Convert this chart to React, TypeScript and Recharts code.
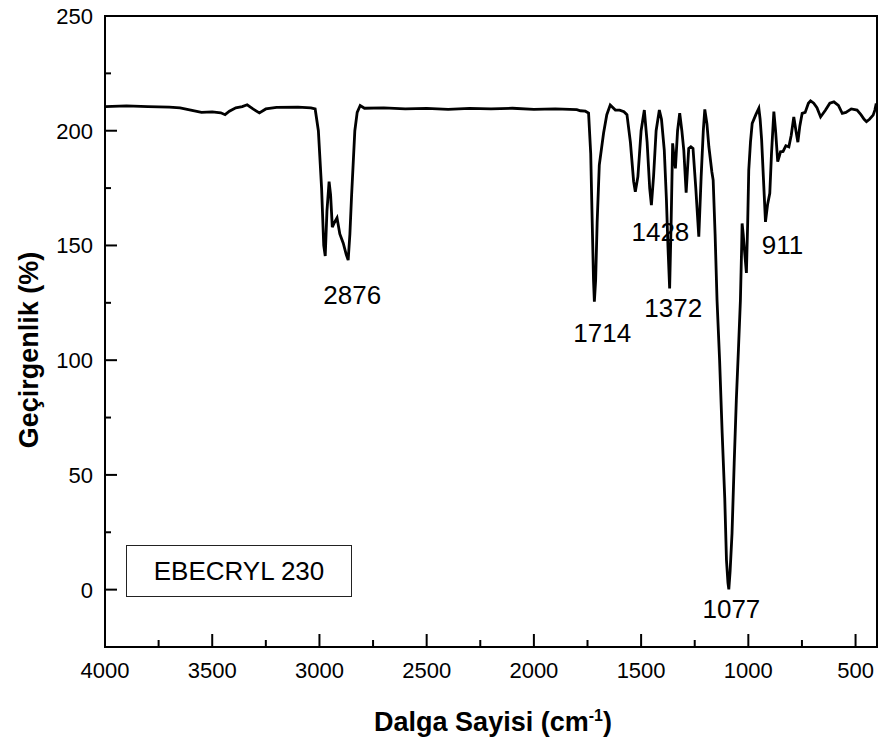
import React from 'react';
import { LineChart, Line, XAxis, YAxis, ReferenceArea, ReferenceDot } from 'recharts';

// FTIR spectrum (wavenumber, transmittance)
const wavenumbers = [
  4000, 3900, 3800, 3700, 3650, 3600, 3550, 3500, 3460, 3440, 3420, 3390, 3360, 3337, 3310, 3280, 3250, 3200, 3100, 3040,
  3020, 3005, 2990, 2980, 2973, 2965, 2955, 2948, 2940, 2930, 2918, 2905, 2889, 2875, 2866, 2858, 2850, 2843, 2835, 2824,
  2810, 2790, 2700, 2600, 2500, 2400, 2300, 2200, 2100, 2000, 1900, 1800, 1783, 1760, 1745, 1735, 1728, 1722, 1718, 1712,
  1705, 1695, 1675, 1660, 1644, 1620, 1600, 1580, 1566, 1550, 1535, 1527, 1515, 1500, 1485, 1472, 1460, 1452, 1442, 1430,
  1415, 1405, 1392, 1382, 1375, 1367, 1360, 1353, 1346, 1340, 1330, 1320, 1310, 1301, 1290, 1278, 1268, 1258, 1245, 1231,
  1220, 1210, 1203, 1193, 1184, 1170, 1164, 1155, 1146, 1134, 1122, 1110, 1102, 1095, 1091, 1085, 1076, 1066, 1056, 1046,
  1037, 1031, 1029, 1024, 1018, 1009, 1003, 998, 990, 982, 965, 951, 945, 938, 930, 920, 910, 900, 892, 881,
  873, 863, 855, 850, 838, 825, 811, 800, 788, 778, 769, 760, 749, 735, 720, 710, 695, 680, 663, 640,
  620, 601, 580, 562, 545, 520, 493, 475, 460, 449, 435, 418, 410, 405, 400,
];
const transmittance = [
  210.5, 210.8, 210.5, 210.3, 210.0, 209.0, 208.0, 208.2, 207.8, 207.0, 208.5, 210.0, 210.5, 211.3, 209.5, 207.8, 209.5, 210.2, 210.3, 210.0,
  209.5, 200, 175, 150, 145.4, 165, 177.8, 172, 158, 160, 162, 155, 151, 146, 143.6, 155, 172, 185, 200, 208,
  211, 209.8, 210, 209.5, 209.7, 209.3, 209.7, 209.5, 209.8, 209.3, 209.5, 209.2, 208.7, 208.5, 207.7, 190, 160, 135, 125.5, 135,
  160, 185, 199, 207, 211.2, 209, 209, 208.3, 207, 195, 178, 173.4, 180, 200, 209, 195, 175, 167.6, 180, 200,
  209, 205, 191.6, 170, 150, 131.3, 160, 194.5, 188, 183.6, 200, 207.6, 200, 191.6, 173, 192.3, 193, 192.3, 175, 153.8,
  180, 200, 209.3, 203, 193, 182, 178.5, 155, 126.2, 100, 68.2, 40, 12.9, 3, 0.1, 8, 24.6, 55, 82.6, 105,
  126, 150, 159.6, 155, 148, 138, 160, 182.9, 195, 203.2, 207, 209.8, 205, 196, 180, 160.3, 168, 172.7, 190, 208.3,
  200, 186.5, 189, 190.8, 191, 193.5, 193, 198, 206, 200, 195, 202, 207.6, 208, 212, 213, 212, 210, 206, 209,
  212, 212.6, 211, 207.6, 208, 209.5, 209, 207, 205, 204, 205, 206.8, 209, 211.2, 211,
];

const xTicks = [4000, 3750, 3500, 3250, 3000, 2750, 2500, 2250, 2000, 1750, 1500, 1250, 1000, 750, 500];
const yTicks = [0, 25, 50, 75, 100, 125, 150, 175, 200, 225, 250];

// peak annotations: text and anchor (wavenumber, transmittance)
const peakLabels = ['2876', '1714', '1428', '1372', '911', '1077'];
const peakLabelX = [2847, 1681, 1410, 1350, 841, 1079];
const peakLabelY = [128.4, 111.8, 155.8, 122.7, 150.2, -8.5];

const data = wavenumbers.map((w, i) => ({ w, t: transmittance[i] }));

const FONT = "Arial, 'Liberation Sans', sans-serif";

const XTick = (props: any) => {
  const { x, y, payload } = props;
  const major = payload.value % 500 === 0;
  return (
    <g>
      <line x1={x} x2={x} y1={y} y2={y - (major ? 13 : 7)} stroke="#000" strokeWidth={2} />
      {major && (
        <text x={x} y={y + 31} textAnchor="middle" fontSize={22} fontFamily={FONT} fill="#000">
          {payload.value}
        </text>
      )}
    </g>
  );
};

const YTick = (props: any) => {
  const { x, y, payload } = props;
  const major = payload.value % 50 === 0;
  return (
    <g>
      {payload.value !== 250 && (
        <line x1={x} x2={x + (major ? 12 : 6)} y1={y} y2={y} stroke="#000" strokeWidth={2} />
      )}
      {major && (
        <text x={x - 12} y={y + 8} textAnchor="end" fontSize={22} fontFamily={FONT} fill="#000">
          {payload.value}
        </text>
      )}
    </g>
  );
};

export default function App() {
  return (
    <div style={{ position: 'absolute', left: 0, top: 0, width: 882, height: 749, background: '#fff', fontFamily: FONT }}>
      <LineChart width={882} height={749} data={data} margin={{ top: 16, right: 5, bottom: 62, left: 0 }}>
        <XAxis
          dataKey="w"
          type="number"
          domain={[400, 4000]}
          reversed
          ticks={xTicks}
          interval={0}
          tickSize={0}
          tickMargin={0}
          tick={<XTick />}
          height={40}
          axisLine={{ stroke: '#000', strokeWidth: 2 }}
          allowDataOverflow
        />
        <YAxis
          type="number"
          domain={[-25, 250]}
          ticks={yTicks}
          interval={0}
          tickSize={0}
          tickMargin={0}
          tick={<YTick />}
          width={105}
          axisLine={{ stroke: '#000', strokeWidth: 2 }}
          allowDataOverflow
        />
        <ReferenceArea x1={4000} x2={400} y1={-25} y2={250} fill="none" stroke="#000" strokeWidth={2} fillOpacity={0} />
        <Line dataKey="t" type="linear" stroke="#000" strokeWidth={2.8} dot={false} isAnimationActive={false} />
        {peakLabels.map((p, i) => (
          <ReferenceDot
            key={p}
            x={peakLabelX[i]}
            y={peakLabelY[i]}
            r={0}
            fill="none"
            stroke="none"
            ifOverflow="visible"
            label={{ value: p, position: 'center', fontSize: 26, fill: '#000', fontFamily: FONT }}
          />
        ))}
      </LineChart>
      <div
        style={{
          position: 'absolute', left: 126, top: 545, width: 224, height: 50,
          border: '1.5px solid #222', display: 'flex', alignItems: 'center', justifyContent: 'center',
          fontSize: 26, color: '#000', background: '#fff',
        }}
      >
        EBECRYL 230
      </div>
      <div
        style={{
          position: 'absolute', left: 29, top: 350, transform: 'translate(-50%, -50%) rotate(-90deg)',
          whiteSpace: 'nowrap', fontSize: 27, fontWeight: 'bold', color: '#000',
        }}
      >
        Geçirgenlik (%)
      </div>
      <div
        style={{
          position: 'absolute', left: 493, top: 722, transform: 'translate(-50%, -50%)',
          whiteSpace: 'nowrap', fontSize: 27, fontWeight: 'bold', color: '#000',
        }}
      >
        Dalga Sayisi (cm<sup style={{ fontSize: 16 }}>-1</sup>)
      </div>
    </div>
  );
}
